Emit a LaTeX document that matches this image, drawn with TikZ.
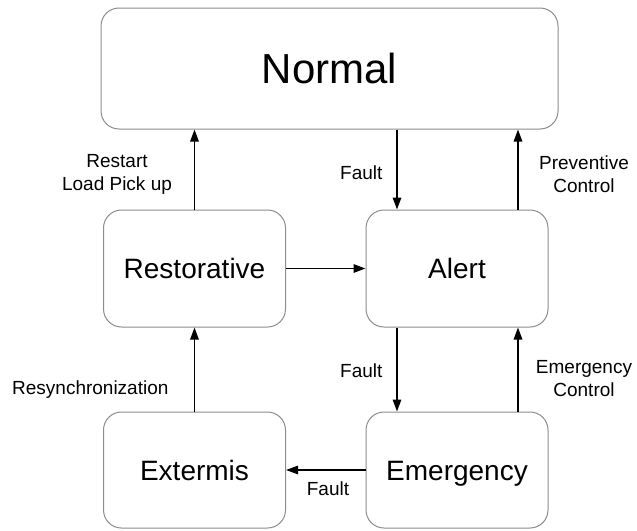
\documentclass[tikz,border=0pt]{standalone}
\usepackage{fontspec}
\setmainfont{Liberation Sans}
\usetikzlibrary{arrows.meta}

\begin{document}
\begin{tikzpicture}[x=1pt, y=-1pt,
		state/.style={draw=black!45, line width=1pt, rounded corners=18pt,
			minimum width=182pt, minimum height=117pt, text height=20pt, text depth=0pt,
			font=\fontsize{28}{32}\selectfont},
		arr/.style={line width=1.5pt, -{Triangle[length=12pt, width=8.5pt]}},
		lbl/.style={font=\fontsize{19}{23}\selectfont, align=center}]
				\useasboundingbox (0,0) rectangle (637,530);
				% states
				\node[state, minimum width=457pt, minimum height=121pt, text height=30pt,
					font=\fontsize{42}{48}\selectfont] (normal) at (329.5,68.5) {Normal};
				\node[state] (restorative) at (194.5,268.5) {Restorative};
				\node[state] (alert) at (457,268.5) {Alert};
				\node[state, minimum height=116pt] (extermis) at (194.5,470) {Extermis};
				\node[state, minimum height=116pt] (emergency) at (457,470) {Emergency};
				% arrow positions on the alert column
				\coordinate (faultA) at ([xshift=-60pt]alert.north);
				\coordinate (prevA) at ([xshift=61pt]alert.north);
				\coordinate (faultB) at ([xshift=-60pt]alert.south);
				\coordinate (ctrlB) at ([xshift=61pt]alert.south);
				% transitions
				\draw[arr] (restorative.north) -- (restorative.north |- normal.south);
				\draw[arr] (faultA |- normal.south) -- (faultA);
				\draw[arr] (prevA) -- (prevA |- normal.south);
				\draw[arr] (restorative) -- (alert);
				\draw[arr] (faultB) -- (faultB |- emergency.north);
				\draw[arr] (ctrlB |- emergency.north) -- (ctrlB);
				\draw[arr] (extermis.north) -- (restorative.south);
				\draw[arr] (emergency) -- (extermis);
				% labels
				\node[lbl] (restart) at (117,174) {Restart\\Load Pick up};
				\node[lbl, anchor=east] (faulttop) at (386,173) {Fault};
				\node[lbl] (preventive) at (584,174) {Preventive\\Control};
				\node[lbl, anchor=east] (faultmid) at (386,371) {Fault};
				\node[lbl, anchor=east] (resync) at (172,390) {Resynchronization};
				\node[lbl] (emcontrol) at (584,379) {Emergency\\Control};
				\node[lbl] (faultlow) at (328,489) {Fault};
			\end{tikzpicture}
\end{document}
